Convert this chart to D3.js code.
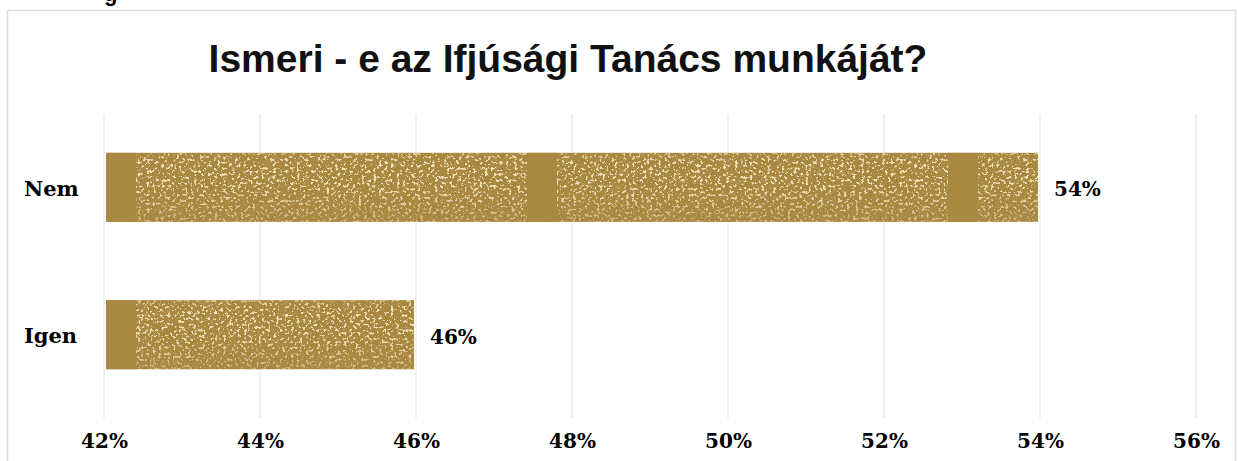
<!DOCTYPE html>
<html>
<head>
<meta charset="utf-8">
<script src="https://cdn.jsdelivr.net/npm/d3@7"></script>
<style>
  body { margin: 0; background: #fff; }
  svg { display: block; }
</style>
</head>
<body>
<svg id="chart" width="1238" height="461"></svg>
<script>
// Chart data
var categories = ["Nem", "Igen"];
var values = [54, 46];
var tickValues = [42, 44, 46, 48, 50, 52, 54, 56];
var title = "Ismeri - e az Ifjúsági Tanács munkáját?";

var width = 1238,
    height = 461;

var svg = d3.select("svg#chart");

// Scales
var xScale = d3.scaleLinear()
    .domain([42, 56])
    .range([104, 1196]);

var yScale = d3.scaleBand()
    .domain(categories)
    .range([116, 406])
    .paddingInner(0.532)
    .paddingOuter(0.25);

var barColor = "#a98841";
var speckleColor = "#f4e4bd";
var tileWidth = 421;
var labelFont = "DejaVu Serif, serif";

// Speckled texture filter for the bars
var defs = svg.append("defs");
var filter = defs.append("filter")
    .attr("id", "speckle")
    .attr("x", 0).attr("y", 0)
    .attr("width", 1).attr("height", 1);
filter.append("feTurbulence")
    .attr("type", "fractalNoise")
    .attr("baseFrequency", "0.34")
    .attr("numOctaves", 3)
    .attr("seed", 11)
    .attr("result", "noise");
filter.append("feColorMatrix")
    .attr("in", "noise")
    .attr("type", "matrix")
    .attr("values", "0 0 0 0 0  0 0 0 0 0  0 0 0 0 0  10 0 0 0 -5.7")
    .attr("result", "mask");
filter.append("feFlood")
    .attr("flood-color", speckleColor)
    .attr("result", "cream");
filter.append("feComposite")
    .attr("in", "cream")
    .attr("in2", "mask")
    .attr("operator", "in")
    .attr("result", "spots");
var merge = filter.append("feMerge");
merge.append("feMergeNode").attr("in", "SourceGraphic");
merge.append("feMergeNode").attr("in", "spots");

// Fade speckles toward the top and bottom of each bar
var fade = defs.append("linearGradient")
    .attr("id", "fade")
    .attr("x1", 0).attr("y1", 0)
    .attr("x2", 0).attr("y2", 1);
fade.append("stop").attr("offset", "0").attr("stop-color", barColor).attr("stop-opacity", 0.35);
fade.append("stop").attr("offset", "0.15").attr("stop-color", barColor).attr("stop-opacity", 0.0);
fade.append("stop").attr("offset", "0.5").attr("stop-color", barColor).attr("stop-opacity", 0.05);
fade.append("stop").attr("offset", "1").attr("stop-color", barColor).attr("stop-opacity", 0.5);

// Outer frame
svg.append("rect")
    .attr("x", 7.5)
    .attr("y", 10.5)
    .attr("width", 1228)
    .attr("height", 470)
    .attr("fill", "none")
    .attr("stroke", "#dcdcdc")
    .attr("stroke-width", 1.5);

// Clipped text fragment above the frame
svg.append("text")
    .attr("x", 104)
    .attr("y", 0.5)
    .attr("font-family", "Liberation Sans, Arial, sans-serif")
    .attr("font-weight", "bold")
    .attr("font-size", 22)
    .text("g");

// Title
svg.append("text")
    .attr("x", 568)
    .attr("y", 72)
    .attr("text-anchor", "middle")
    .attr("font-family", "Liberation Sans, Arial, sans-serif")
    .attr("font-weight", "bold")
    .attr("font-size", 39)
    .attr("fill", "#111")
    .text(title);

// Gridlines
svg.append("g")
    .selectAll("line")
    .data(tickValues)
    .enter()
    .append("line")
    .attr("x1", d => xScale(d))
    .attr("x2", d => xScale(d))
    .attr("y1", 114)
    .attr("y2", 418)
    .attr("stroke", "#e3e3e3")
    .attr("stroke-width", 1);

// X axis labels
var xAxis = d3.axisBottom(xScale)
    .tickValues(tickValues)
    .tickSize(0)
    .tickPadding(0)
    .tickFormat(d => d + "%");

svg.append("g")
    .attr("transform", "translate(0,434)")
    .call(xAxis)
    .call(g => g.select(".domain").remove())
    .selectAll("text")
    .attr("font-family", labelFont)
    .attr("font-weight", "bold")
    .attr("font-size", 20)
    .attr("fill", "#000");

// Y axis labels
var yAxis = d3.axisLeft(yScale)
    .tickSize(0)
    .tickPadding(0);

svg.append("g")
    .attr("transform", "translate(24,2)")
    .call(yAxis)
    .call(g => g.select(".domain").remove())
    .selectAll("text")
    .attr("text-anchor", "start")
    .attr("font-family", labelFont)
    .attr("font-weight", "bold")
    .attr("font-size", 21)
    .attr("fill", "#000");

var barData = categories.map((c, i) => ({ category: c, value: values[i] }));

// Bars
var bars = svg.append("g");
bars.selectAll("rect.bar")
    .data(barData)
    .enter()
    .append("rect")
    .attr("class", "bar")
    .attr("x", xScale(42) + 2)
    .attr("y", d => yScale(d.category))
    .attr("width", d => xScale(d.value) - xScale(42) - 4)
    .attr("height", yScale.bandwidth())
    .attr("fill", barColor)
    .attr("filter", "url(#speckle)");

bars.selectAll("rect.fade")
    .data(barData)
    .enter()
    .append("rect")
    .attr("class", "fade")
    .attr("x", xScale(42) + 2)
    .attr("y", d => yScale(d.category))
    .attr("width", d => xScale(d.value) - xScale(42) - 4)
    .attr("height", yScale.bandwidth())
    .attr("fill", "url(#fade)");

// Solid band at the start of each texture tile
var strips = [];
barData.forEach(function (d) {
    var start = xScale(42) + 2,
        end = xScale(d.value) - 2;
    for (var x = start; x < end; x += tileWidth) {
        strips.push({ category: d.category, x: x, w: Math.min(30, end - x) });
    }
});

bars.selectAll("rect.strip")
    .data(strips)
    .enter()
    .append("rect")
    .attr("class", "strip")
    .attr("x", d => d.x)
    .attr("y", d => yScale(d.category))
    .attr("width", d => d.w)
    .attr("height", yScale.bandwidth())
    .attr("fill", barColor);

// Value labels
svg.append("g")
    .selectAll("text")
    .data(barData)
    .enter()
    .append("text")
    .attr("x", d => xScale(d.value) + 14)
    .attr("y", d => yScale(d.category) + yScale.bandwidth() / 2 + 2)
    .attr("dy", "0.35em")
    .attr("font-family", labelFont)
    .attr("font-weight", "bold")
    .attr("font-size", 20)
    .attr("fill", "#000")
    .text(d => d.value + "%");
</script>
</body>
</html>
